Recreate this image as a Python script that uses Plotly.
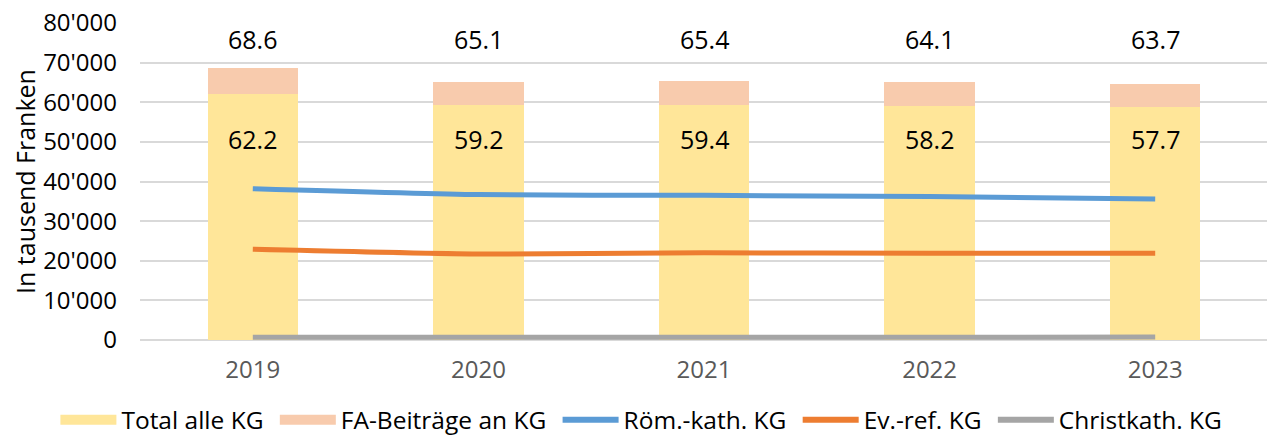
import plotly.graph_objects as go

years = ["2019", "2020", "2021", "2022", "2023"]

# Werte in tausend Franken
total_kg = [62200, 59200, 59400, 59100, 58700]
fa_beitraege = [6400, 5900, 6000, 5900, 6000]
roem_kath = [38200, 36700, 36500, 36200, 35600]
ev_ref = [22900, 21700, 22000, 21900, 21900]
christkath = [700, 700, 700, 700, 750]

# Beschriftungen in Mio. Franken
label_total = ["62.2", "59.2", "59.4", "58.2", "57.7"]
label_sum = ["68.6", "65.1", "65.4", "64.1", "63.7"]

FONT = "Open Sans"
NB = "\u00a0"  # Abstand zwischen Legendeneinträgen

fig = go.Figure()

fig.add_trace(go.Bar(
    x=years, y=total_kg, name="Total alle KG",
    marker=dict(color="#FFE699", line=dict(width=0)),
    width=0.4, showlegend=False, hoverinfo="y"
))
fig.add_trace(go.Bar(
    x=years, y=fa_beitraege, name="FA-Beiträge an KG",
    marker=dict(color="#F8CBAD", line=dict(width=0)),
    width=0.4, showlegend=False, hoverinfo="y"
))

lines = [
    ("Röm.-kath. KG", roem_kath, "#5B9BD5"),
    ("Ev.-ref. KG", ev_ref, "#ED7D31"),
    ("Christkath. KG", christkath, "#A5A5A5"),
]
for name, vals, col in lines:
    fig.add_trace(go.Scatter(
        x=years, y=vals, name=name, mode="lines",
        line=dict(color=col, width=5, shape="spline", smoothing=0.6),
        showlegend=False
    ))

# Legendeneinträge (Balken als breite Rechtecke wie im Original)
legend_items = [
    ("Total alle KG" + NB, "#FFE699", 12),
    ("FA-Beiträge an KG" + NB, "#F8CBAD", 12),
    ("Röm.-kath. KG" + NB, "#5B9BD5", 6),
    ("Ev.-ref. KG" + NB, "#ED7D31", 6),
    ("Christkath. KG", "#A5A5A5", 6),
]
for name, col, w in legend_items:
    fig.add_trace(go.Scatter(
        x=[None], y=[None], name=name, mode="lines",
        line=dict(color=col, width=w), hoverinfo="skip"
    ))

# Datenbeschriftungen (x als Kategorie-Index)
for i, (t_top, t_in) in enumerate(zip(label_sum, label_total)):
    fig.add_annotation(x=i, y=75900, text=t_top, showarrow=False,
                       font=dict(size=25, color="#000000", family=FONT))
    fig.add_annotation(x=i, y=50700, text=t_in, showarrow=False,
                       font=dict(size=25, color="#000000", family=FONT))

# Seite hat 8px Body-Rand -> Figur um 8px kleiner
fig.update_layout(
    width=1267, height=427,
    barmode="stack",
    plot_bgcolor="white",
    paper_bgcolor="white",
    separators=".'",
    font=dict(family=FONT, size=20, color="#000000"),
    margin=dict(l=132, r=7, t=15, b=95, autoexpand=False),
    legend=dict(
        orientation="h", x=-0.075, xanchor="left", y=-0.252, yanchor="middle",
        font=dict(size=24.5, color="#000000", family=FONT),
        itemwidth=56, traceorder="normal"
    ),
    showlegend=True,
)

fig.update_yaxes(
    range=[0, 80000], dtick=10000, tickformat=",d",
    showgrid=True, gridcolor="#D9D9D9", gridwidth=1.5,
    zeroline=True, zerolinecolor="#D9D9D9", zerolinewidth=1.5,
    ticks="", ticklabelstandoff=22, ticklabeloverflow="allow",
    tickfont=dict(size=24, color="#000000"),
    title=dict(text="In tausend Franken", font=dict(size=25, color="#000000"), standoff=21),
    automargin=False,
)
fig.update_xaxes(
    type="category", range=[-0.5, 4.5],
    showgrid=False, showline=False, ticks="", ticklabelstandoff=13,
    tickfont=dict(size=24, color="#595959"),
    automargin=False,
)

fig.write_html("out.html")
